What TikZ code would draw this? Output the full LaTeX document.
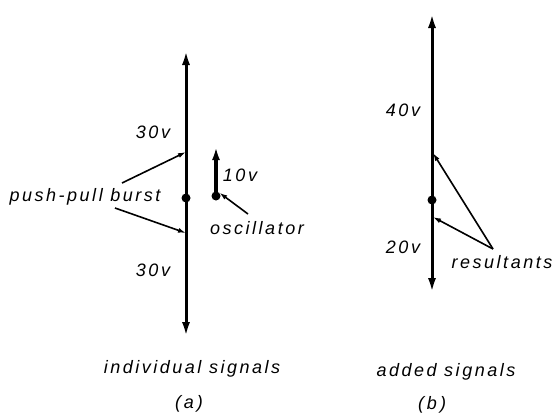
\documentclass[tikz,border=0pt]{standalone}
\usepackage{fontspec}
\setmainfont{Liberation Sans}[LetterSpace=14]
\usetikzlibrary{arrows.meta}

\begin{document}
\begin{tikzpicture}[
	x=1pt, y=-1pt,
	axis/.style={line width=3pt, {Latex[length=15pt,width=8pt]}-{Latex[length=15pt,width=8pt]}},
	pointer/.style={line width=1.6pt, -{Latex[length=8pt,width=5pt]}},
	lbl/.style={font=\itshape\fontsize{18}{20}\selectfont, inner sep=0pt},
	dot/.style={circle, fill, inner sep=0pt, minimum size=9pt}
	]
	\useasboundingbox (0,0) rectangle (554,415);
	
	%--- (a) individual signals ---
	\coordinate (Atop) at (186,50);
	\coordinate (Abot) at (186,337);
	\coordinate (Aup) at (186,152);
	\coordinate (Adown) at (186,233);
	\draw[axis] (Abot) -- (Atop);
	\node[dot] (Adot) at (186,198) {};
	
	\node[lbl] (Aup30) at (153,132) {30v};
	\node[lbl] (Adown30) at (153,270) {30v};
	
	\node[lbl] (burst) at (85,197) {push-pull burst};
	\coordinate (burstA) at (122,183);
	\coordinate (burstB) at (115,208);
	\draw[pointer] (burstA) -- (Aup);
	\draw[pointer] (burstB) -- (Adown);
	
	\node[dot] (Odot) at (216,196) {};
	\coordinate (Otop) at (216,147);
	\draw[line width=3.4pt, -{Latex[length=13pt,width=8pt]}] (Odot.center) -- (Otop);
	\node[lbl] (O10) at (240,175) {10v};
	\node[lbl] (osc) at (257,228) {oscillator};
	\coordinate (oscA) at (248,214);
	\draw[pointer] (oscA) -- (Odot.north east);
	
	\node[lbl] (capA) at (192,369) {individual signals};
	\node[lbl] (subA) at (189,404) {(\,a\,)};
	
	%--- (b) added signals ---
	\coordinate (Btop) at (432,13);
	\coordinate (Bbot) at (432,293);
	\coordinate (Bup) at (433,153);
	\coordinate (Bdown) at (433,217);
	\draw[axis] (Bbot) -- (Btop);
	\node[dot] (Bdot) at (432,200) {};
	
	\node[lbl] (B40) at (403,110) {40v};
	\node[lbl] (B20) at (403,247) {20v};
	
	\node[lbl] (res) at (502,262) {resultants};
	\coordinate (resA) at (493,249);
	\draw[pointer] (resA) -- (Bup);
	\draw[pointer] (resA) -- (Bdown);
	
	\node[lbl] (capB) at (446,372) {added signals};
	\node[lbl] (subB) at (432,405) {(\,b\,)};
	
\end{tikzpicture}
\end{document}
